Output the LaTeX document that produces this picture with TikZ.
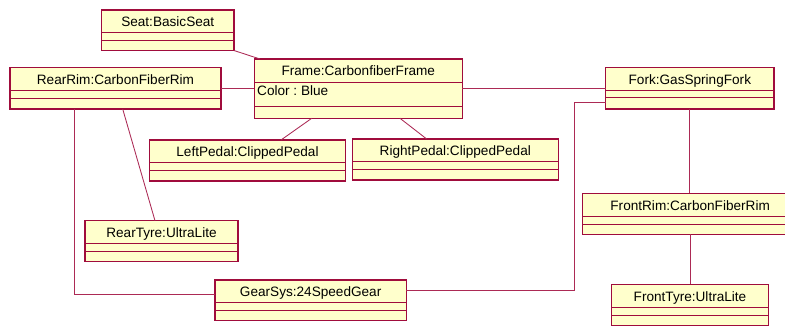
\documentclass[tikz,border=0pt]{standalone}
\usepackage{fontspec}
\setmainfont{Liberation Sans}
\frenchspacing
\definecolor{objfill}{HTML}{FFFFCC}
\definecolor{objline}{HTML}{A00C3C}
\definecolor{linkline}{HTML}{AC2A55}
\tikzset{
  objbox/.style={draw=objline, fill=objfill, line width=1.1pt, inner sep=0pt, outer sep=0pt, anchor=north west},
  objtitle/.style={font=\fontsize{13.6}{16}\selectfont, inner sep=0pt, text height=9.8pt, text depth=0pt},
  divider/.style={draw=objline, line width=0.8pt},
  link/.style={draw=linkline, line width=0.85pt},
}
% UML object: name, x1, y1, x2, y2, first divider y, second divider y, title
\newcommand\umlobject[8]{%
  \node[objbox, minimum width={#4-#2}, minimum height={#5-#3}] (#1) at (#2,#3) {};
  \path (#1.north) ++(0,{(#6-#3)/2+0.5}) node[objtitle] {#8};
  \draw[divider] (#1.north west) ++(0,{#6-#3}) -- ++({#4-#2},0);
  \draw[divider] (#1.north west) ++(0,{#7-#3}) -- ++({#4-#2},0);
}
\begin{document}
\begin{tikzpicture}[x=1pt, y=-1pt]
\useasboundingbox (0,0) rectangle (785,327);
\clip (0,0) rectangle (785,327);
\fill[white] (0,0) rectangle (785,327);

% objects
\umlobject{seat}{101.5}{10}{234}{50.5}{32.7}{40.7}{Seat:BasicSeat}
\umlobject{rearrim}{10}{67.7}{221}{109}{90}{98.3}{RearRim:CarbonFiberRim}
\umlobject{frame}{254.3}{59}{462.3}{118.3}{82}{106.7}{Frame:CarbonfiberFrame}
\umlobject{fork}{605.7}{67.3}{774}{109}{90.7}{97.7}{Fork:GasSpringFork}
\umlobject{leftpedal}{149.3}{140}{345.7}{181}{162.7}{170.7}{LeftPedal:ClippedPedal}
\umlobject{rightpedal}{352.3}{139}{558.3}{180}{161.7}{169.3}{RightPedal:ClippedPedal}
\umlobject{reartyre}{85}{220.7}{238}{261.3}{243.3}{251.3}{RearTyre:UltraLite}
\umlobject{gearsys}{215}{280}{406.3}{320.7}{302.7}{310.3}{GearSys:24SpeedGear}
\umlobject{frontrim}{582.3}{193.3}{798}{234.3}{216.7}{224.3}{FrontRim:CarbonFiberRim}
\umlobject{fronttyre}{611.7}{284.3}{768.3}{325.7}{307.7}{315.7}{FrontTyre:UltraLite}

% attribute of the frame
\node[objtitle, anchor=west] (framecolor) at (257,90.8) {Color : Blue};

% links
\draw[link] (seat.south east) -- ([xshift=5.7pt]frame.north west);
\draw[link] (rearrim.east) -- (rearrim.east -| frame.west);
\draw[link] (frame.east) -- (frame.east -| fork.west);
\draw[link] ([xshift=57.4pt]frame.south west) -- ([xshift=131.7pt]leftpedal.north west);
\draw[link] ([xshift=145.7pt]frame.south west) -- ([xshift=74.4pt]rightpedal.north west);
\draw[link] ([xshift=112.7pt]rearrim.south west) -- ([xshift=70pt]reartyre.north west);
\draw[link] ([xshift=64.7pt]rearrim.south west) |- ([yshift=6.35pt]gearsys.west);
\draw[link] ([yshift=-14.15pt]fork.west) -- ++(-31.7,0) |- ([yshift=10.35pt]gearsys.east);
\draw[link] (fork.south) -- (fork.south |- frontrim.north);
\draw[link] (fronttyre.north) -- (fronttyre.north |- frontrim.south);
\end{tikzpicture}
\end{document}
